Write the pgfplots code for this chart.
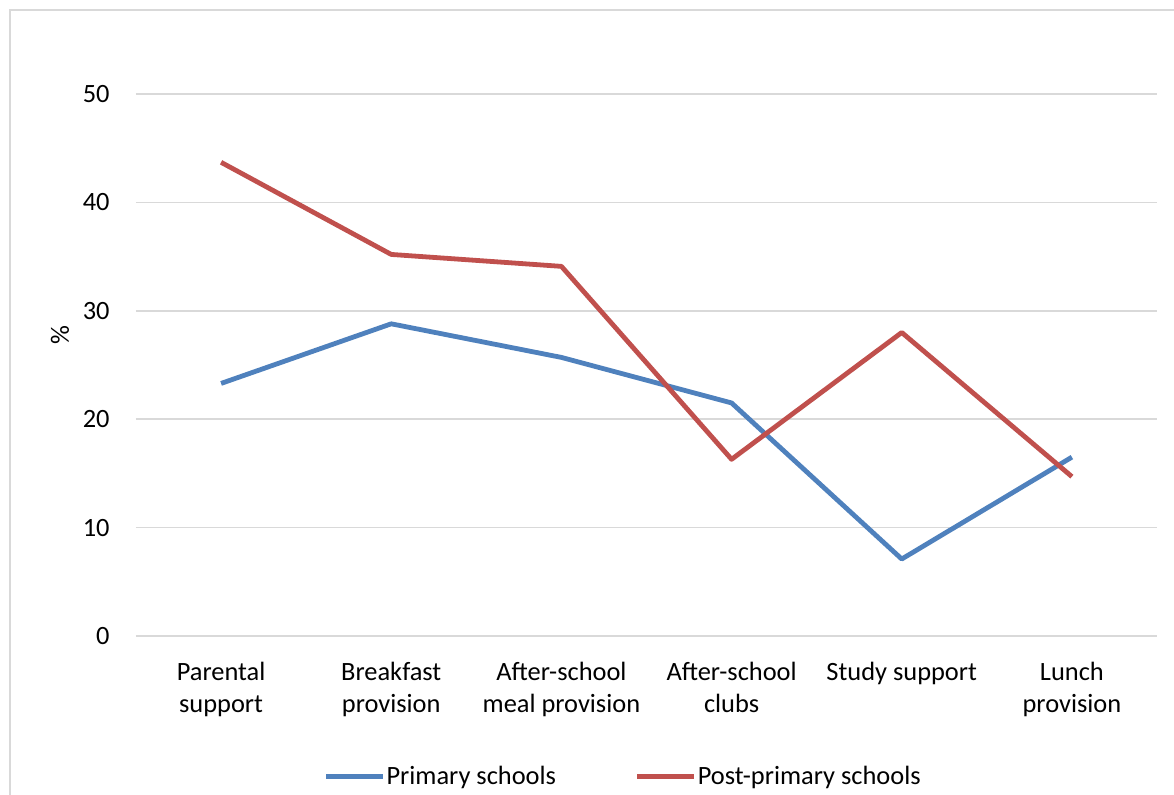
\documentclass[border=0pt]{standalone}
\usepackage{pgfplots}
\pgfplotsset{compat=1.18}
\usepackage{fontspec}
\setmainfont{Carlito}

\definecolor{primblue}{HTML}{4F81BD}
\definecolor{postred}{HTML}{C0504D}
\definecolor{gridgray}{HTML}{D9D9D9}

\begin{document}
\begin{tikzpicture}[x=1pt,y=1pt]
\useasboundingbox (0,0) rectangle (587,397);
\clip (0,0) rectangle (587,397);
% chart frame
\draw[gridgray, line width=1pt] (5,-20) -- (5,392) -- (620,392);
\begin{axis}[
  at={(68pt,79pt)}, anchor=south west,
  scale only axis,
  width=510.5pt, height=271pt,
  xmin=-0.5, xmax=5.5,
  ymin=0, ymax=50,
  axis line style={draw=none},
  major tick length=0pt,
  xtick={0,...,5},
  xticklabels={Parental\\support, Breakfast\\provision, After-school\\meal provision, After-school\\clubs, Study support, Lunch\\provision},
  ytick={0,10,...,50},
  ymajorgrids,
  grid style={gridgray, line width=0.8pt},
  /pgf/number format/assume math mode=true,
  tick label style={font=\fontsize{13.2}{16}\selectfont, text=black},
  xticklabel style={inner sep=0pt, anchor=north, yshift=-13pt, align=center},
  yticklabel style={inner sep=0pt, anchor=east, xshift=-13pt},
  ylabel={\%},
  ylabel style={at={(axis description cs:-0.0744,0.555)}, anchor=center, inner sep=0pt, font=\fontsize{13.2}{16}\selectfont},
  legend columns=2,
  legend style={at={(axis description cs:0.1835,-0.2595)}, anchor=west, draw=none, fill=none, inner sep=0pt,
    font=\fontsize{13.2}{16}\selectfont,
    /tikz/every odd column/.style={column sep=0pt},
    /tikz/every even column/.style={column sep=39pt},
    nodes={inner xsep=0.5pt}},
  legend image code/.code={\draw[#1, line width=2.4pt] (0pt,0pt) -- (28.5pt,0pt);},
  clip=false,
]
\addplot[primblue, line width=2.4pt, line join=round] coordinates {
  (0,23.3) (1,28.8) (2,25.7) (3,21.5) (4,7.1) (5,16.5)};
\addlegendentry{Primary schools}
\addplot[postred, line width=2.4pt, line join=round] coordinates {
  (0,43.7) (1,35.2) (2,34.1) (3,16.3) (4,28.0) (5,14.7)};
\addlegendentry{Post-primary schools}
\end{axis}
\end{tikzpicture}
\end{document}
